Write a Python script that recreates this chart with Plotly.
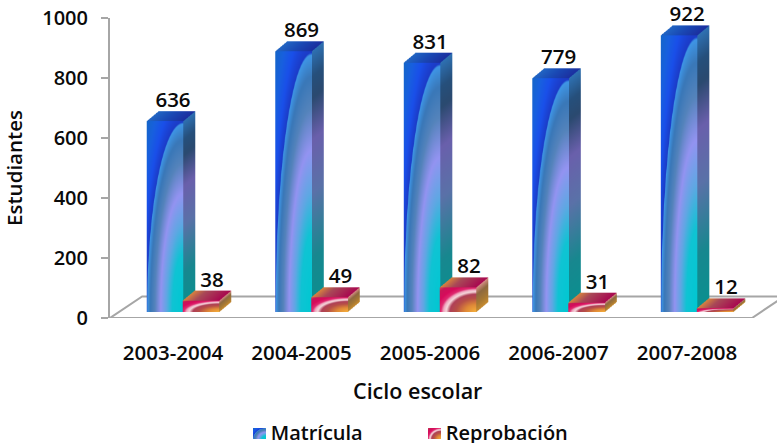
import base64, struct, zlib
import numpy as np
import plotly.graph_objects as go

categories = ["2003-2004", "2004-2005", "2005-2006", "2006-2007", "2007-2008"]
matricula = [636, 869, 831, 779, 922]
reprobacion = [38, 49, 82, 31, 12]

FONT = "Open Sans"
INK = "#0a0a0a"
GRID = "#a6a6a6"

# axis / geometry in data units
PX_X = 128.5
PX_Y = 0.3
DX = 12 / PX_X
DY = 10 / PX_Y
FLOOR = 20
BW = 36.5 / PX_X
OFF_A = -0.062
OFF_B = 0.218
SS = 3


def hx(c):
    return np.array([int(c[i:i + 2], 16) for i in (1, 3, 5)], float)


def ramp(t, stops):
    ts = [s[0] for s in stops]
    cs = np.array([hx(s[1]) for s in stops])
    return np.stack([np.interp(t, ts, cs[:, k]) for k in range(3)], -1)


BLUE_R = [(0, "#00c8d2"), (.3, "#10c4d4"), (.46, "#60a8e4"), (.62, "#9494f2"), (.78, "#5584bc"),
          (.9, "#3a78b8"), (.985, "#3f96e6"), (.995, "#1c3cc8"), (1.12, "#1a50ea"), (1.25, "#1860e0"), (1.45, "#1468c4")]
BLUE_SIDE = [(0, "#2f72b4"), (.1, "#26507c"), (.18, "#2b4a70"), (.34, "#6a60ac"), (.55, "#5a72a8"), (.8, "#18888f"), (1, "#0a9090")]
BLUE_TOP = [(0, "#2266c4"), (.5, "#1a48b4"), (1, "#1c30a0")]
RED_R = [(0, "#f8b23c"), (.3, "#e08a38"), (.55, "#b85048"), (.72, "#b04058"), (.82, "#f6d8dc"), (.9, "#f0a8c0"),
         (.97, "#e02a70"), (1.1, "#d80c5c"), (1.3, "#c81858"), (1.45, "#d06a50")]
RED_SIDE = [(0, "#d89088"), (.3, "#8e6a40"), (.7, "#a87a34"), (1, "#c88c30")]
RED_TOP = [(0, "#d88440"), (.35, "#a84858"), (1, "#a80850")]


def sprite(value, radial, side, top):
    d = 12 * SS
    dy = 10 * SS
    fw = int(round(BW * PX_X * SS))
    fh = max(int(round(value * PX_Y * SS)), 1)
    W, H = fw + d, fh + dy
    img = np.zeros((H, W, 4), np.uint8)
    yy, xx = np.mgrid[0:H, 0:W]
    xx = xx + .5
    yy = yy + .5
    # front
    m = (xx < fw) & (yy >= dy)
    u = xx / fw
    v = (yy - dy) / fh
    r = np.sqrt((1 - u) ** 2 + (1 - v) ** 2)
    img[m, :3] = ramp(r[m], radial)
    img[m, 3] = 255
    # side
    t = (xx - fw) / d
    m = (xx >= fw) & (yy >= dy * (1 - t)) & (yy <= H - dy * t)
    img[m, :3] = ramp((yy[m] - dy * (1 - t[m])) / fh, side)
    img[m, 3] = 255
    # top
    s = (dy - yy) / dy
    m = (yy < dy) & (xx >= s * d) & (xx < fw + s * d)
    img[m, :3] = ramp((xx[m] - s[m] * d) / fw, top)
    img[m, 3] = 255
    return png(img)


def swatch(radial):
    nw, nh = 13 * SS, 11 * SS
    yy, xx = np.mgrid[0:nh, 0:nw]
    r = np.sqrt((1 - (xx + .5) / nw) ** 2 + (1 - (yy + .5) / nh) ** 2)
    img = np.zeros((nh, nw, 4), np.uint8)
    img[..., :3] = ramp(r, radial)
    img[..., 3] = 255
    return png(img)


def png(a):
    h, w = a.shape[:2]
    raw = b"".join(b"\x00" + a[i].tobytes() for i in range(h))

    def chunk(t, d):
        return struct.pack(">I", len(d)) + t + d + struct.pack(">I", zlib.crc32(t + d) & 0xffffffff)
    data = b"\x89PNG\r\n\x1a\n" + chunk(b"IHDR", struct.pack(">IIBBBBB", w, h, 8, 6, 0, 0, 0)) + \
        chunk(b"IDAT", zlib.compress(raw)) + chunk(b"IEND", b"")
    return "data:image/png;base64," + base64.b64encode(data).decode()


idx = np.arange(len(categories))
xa = idx + OFF_A
xb = idx + OFF_B

fig = go.Figure()
# The visible faces and legend keys are the gradient images below, so the flat fill is fully transparent.
fig.add_bar(x=xa, y=matricula, base=FLOOR, width=BW, name="Matrícula", marker=dict(color="rgba(42,111,208,0)", line_width=0))
fig.add_bar(x=xb, y=reprobacion, base=FLOOR, width=BW, name="Reprobación", marker=dict(color="rgba(200,24,88,0)", line_width=0))
lab_font = dict(family=FONT, size=20.5, color=INK, weight=600)
fig.add_scatter(x=np.concatenate([xa + 8 / PX_X, xb + 11 / PX_X]),
                y=np.array(matricula + reprobacion) + FLOOR + DY - 4,
                mode="text", text=[str(v) for v in matricula + reprobacion],
                textposition="top center", textfont=lab_font, showlegend=False, hoverinfo="skip", cliponaxis=False)

images = []
for xs, vals, rad, side, top in ((xa, matricula, BLUE_R, BLUE_SIDE, BLUE_TOP), (xb, reprobacion, RED_R, RED_SIDE, RED_TOP)):
    for x, v in zip(xs, vals):
        images.append(dict(source=sprite(v, rad, side, top), xref="x", yref="y", x=x - BW / 2, y=FLOOR + v + DY,
                           sizex=BW + DX, sizey=v + DY, sizing="stretch", xanchor="left", yanchor="top", layer="above"))
W, H = 777, 443
for px, rad in ((253, BLUE_R), (428, RED_R)):
    images.append(dict(source=swatch(rad), xref="paper", yref="paper", x=(px - 110) / (W - 110),
                       y=(318 - 428) / 300, sizex=13 / 667, sizey=11 / 300, sizing="stretch",
                       xanchor="left", yanchor="top", layer="above"))

BACK = 21.5 * 1 / PX_Y
shapes = [
    dict(type="path", layer="below", line=dict(color=GRID, width=2), fillcolor="white",
         path=f"M -0.49 0 L 4.506 0 L 4.755 {BACK} L -0.24 {BACK} Z"),
]

tick_font = dict(family=FONT, size=20.5, color=INK, weight=600)
ytick_font = dict(family=FONT, size=20, color=INK, weight=600)
fig.update_layout(
    width=W, height=H, autosize=False, margin=dict(l=110, r=0, t=18, b=125),
    paper_bgcolor="white", plot_bgcolor="white", barmode="overlay", showlegend=True,
    images=images, shapes=shapes,
    annotations=[dict(text="Ciclo escolar", xref="paper", yref="paper", x=(417 - 110) / 667, y=(318 - 390) / 300,
                      xanchor="center", yanchor="middle", showarrow=False,
                      font=dict(family=FONT, size=21.5, color=INK, weight=600))],
    legend=dict(orientation="h", x=0.181, xanchor="left", y=1 - 432 / H, yanchor="middle", yref="container",
                font=dict(family=FONT, size=20, color=INK, weight=600), bgcolor="rgba(0,0,0,0)",
                itemwidth=30, tracegroupgap=0, entrywidth=130, entrywidthmode="pixels"),
    xaxis=dict(range=[-0.49, 4.70], tickvals=idx.tolist(), ticktext=categories, ticks="", showline=False,
               showgrid=False, zeroline=False, tickfont=tick_font, ticklabelstandoff=20),
    yaxis=dict(range=[0, 1000], tickvals=[0, 200, 400, 600, 800, 1000], ticks="outside", ticklen=7, tickwidth=2,
               tickcolor=GRID, showline=True, linecolor=GRID, linewidth=2, showgrid=False, zeroline=False,
               tickfont=ytick_font, ticklabelstandoff=9,
               title=dict(text="Estudiantes", font=dict(family=FONT, size=20.5, color=INK, weight=600), standoff=17)),
)
fig.write_html("out.html", post_script="document.body.style.margin='0';", config=dict(displayModeBar=False))
